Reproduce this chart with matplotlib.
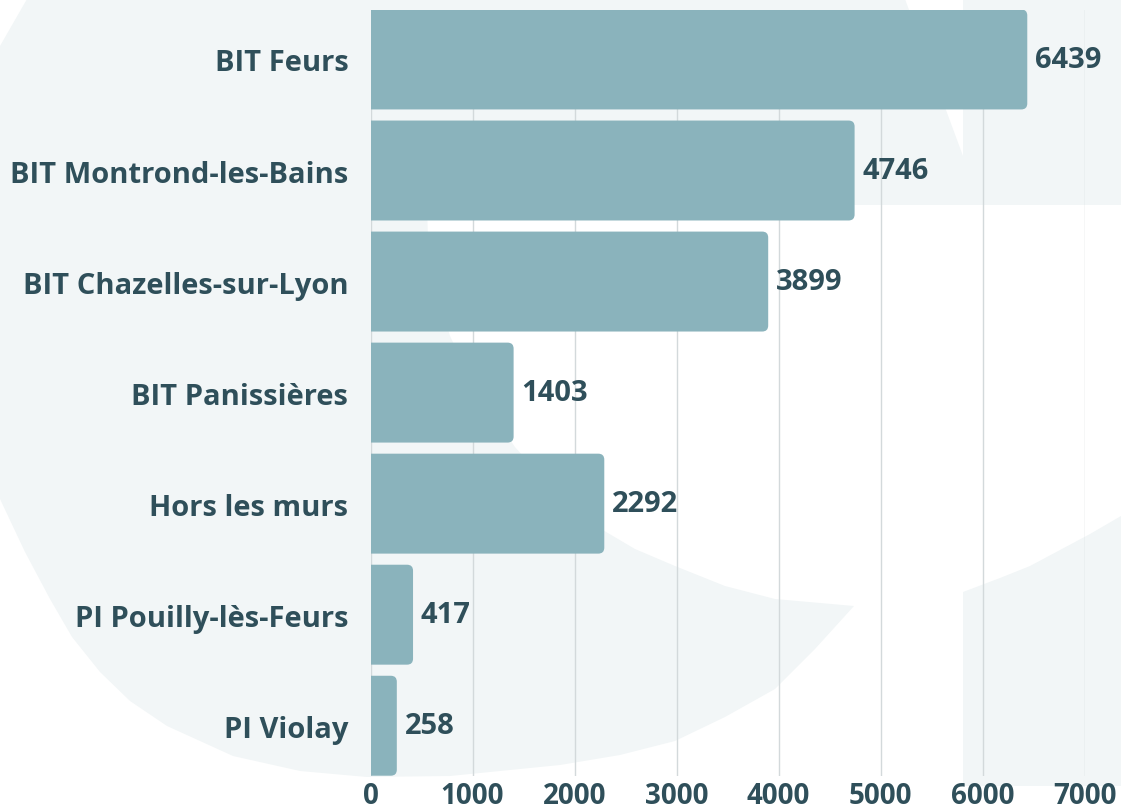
import matplotlib
matplotlib.use("Agg")
import matplotlib.pyplot as plt
from matplotlib.patches import FancyBboxPatch, Polygon

# data
sites = ["BIT Feurs", "BIT Montrond-les-Bains", "BIT Chazelles-sur-Lyon",
         "BIT Panissières", "Hors les murs", "PI Pouilly-lès-Feurs", "PI Violay"]
visits = [6439, 4746, 3899, 1403, 2292, 417, 258]
xticks = [0, 1000, 2000, 3000, 4000, 5000, 6000, 7000]

BAR = "#8ab3bc"
TXT = "#2f4f5a"
BG_SHAPE = "#f2f6f7"
GRID = "#d3d9db"

plt.rcParams["font.family"] = ["Open Sans", "DejaVu Sans"]
plt.rcParams["font.weight"] = "bold"

W, H = 1121, 812
fig = plt.figure(figsize=(W / 100, H / 100), dpi=100)
fig.patch.set_facecolor("white")

# faint logo shape in the background (figure pixel coords, y from top)
def px(pts):
    return [(x / W, 1 - y / H) for x, y in pts]

outer = [(27, 0), (905, 0), (963, 157), (963, 0), (1121, 0), (1121, 206),
         (427, 206), (428, 240), (436, 290), (450, 337), (478, 395),
         (515, 448), (552, 490), (596, 527), (635, 550), (675, 567),
         (725, 587), (775, 600), (854, 607),
         (815, 650), (775, 690), (725, 718), (675, 742), (620, 756),
         (560, 766), (450, 777), (367, 778),
         (300, 772), (233, 757), (167, 727), (130, 702), (100, 673),
         (72, 638), (50, 600), (25, 553), (0, 500), (0, 47)]
fig.patches.append(Polygon(px(outer), closed=True, transform=fig.transFigure,
                           facecolor=BG_SHAPE, edgecolor="none", zorder=0))
block = [(963, 593), (1000, 579), (1030, 567), (1060, 551), (1090, 535),
         (1121, 517), (1121, 787), (963, 787)]
fig.patches.append(Polygon(px(block), closed=True, transform=fig.transFigure,
                           facecolor=BG_SHAPE, edgecolor="none", zorder=0))

ax = fig.add_axes([370.5 / W, 1 - 776.7 / H, 714 / W, 766.2 / H])
ax.set_zorder(2)
ax.patch.set_alpha(0)

n = len(sites)
ypos = list(range(n))
h = 0.9
ax.set_xlim(0, 7000)
ax.set_ylim(n - 1 + h / 2, -h / 2)

# rounded right ends; the left rounding falls outside x=0 and is clipped
r_px = 6
xu = 7000 / 714
yu = (n - 1 + h) / 766.2
for y, v in zip(ypos, visits):
    ax.add_patch(FancyBboxPatch((-2 * r_px * xu, y - h / 2), v + 2 * r_px * xu, h,
                                boxstyle=f"round,pad=0,rounding_size={r_px * xu}",
                                mutation_aspect=yu / xu,
                                facecolor=BAR, edgecolor="none", zorder=2))
    ax.text(v + 78, y, str(v), va="center", ha="left", fontsize=21,
            fontweight="bold", color=TXT, zorder=3, clip_on=False)

ax.set_xticks(xticks)
ax.set_xticklabels([str(t) for t in xticks])
ax.set_yticks(ypos)
ax.set_yticklabels(sites)
ax.tick_params(axis="both", length=0, labelcolor=TXT)
ax.tick_params(axis="y", pad=16, labelsize=21)
ax.tick_params(axis="x", pad=4, labelsize=20)
for lab in ax.get_xticklabels() + ax.get_yticklabels():
    lab.set_fontweight("bold")

ax.grid(axis="x", color=GRID, linewidth=1)
ax.set_axisbelow(True)
for s in ax.spines.values():
    s.set_visible(False)

fig.savefig("out.png", dpi=100)
